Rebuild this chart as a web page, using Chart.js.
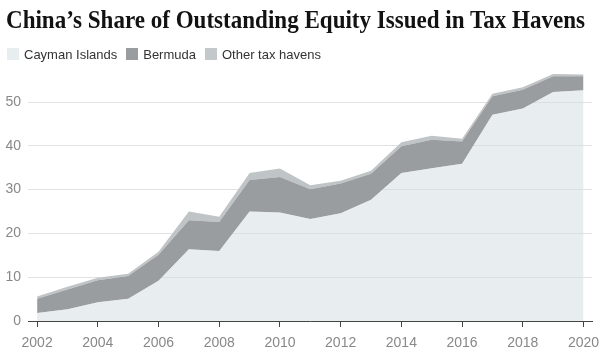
<!DOCTYPE html>
<html><head><meta charset="utf-8">
<script src="https://cdn.jsdelivr.net/npm/chart.js@4"></script>
<style>
html,body{margin:0;padding:0;background:#fff;}
#wrap{position:relative;width:614px;height:356px;overflow:hidden;}
#title{position:absolute;left:6px;top:7px;font:bold 26px "Liberation Serif",serif;line-height:26px;white-space:nowrap;transform-origin:0 0;color:#121212;display:inline-block;}
#legend{position:absolute;left:7px;top:48px;height:12px;display:flex;align-items:center;font:13px "Liberation Sans",sans-serif;color:#333;white-space:nowrap;}
#legend .it{display:flex;align-items:center;margin-right:9px;}
#legend .bx{width:12px;height:12px;margin-right:5px;}
canvas{position:absolute;left:0;top:0;}
</style>
</head><body>
<div id="wrap">
<canvas id="c" width="614" height="356"></canvas>
<span id="title">China’s Share of Outstanding Equity Issued in Tax Havens</span>
<div id="legend"></div>
</div>
<script>
const years = [2002,2003,2004,2005,2006,2007,2008,2009,2010,2011,2012,2013,2014,2015,2016,2017,2018,2019,2020];
const cayman = [1.8,2.7,4.3,5.1,9.2,16.4,16.0,25.0,24.8,23.3,24.6,27.7,33.8,34.9,35.9,47.1,48.5,52.3,52.7];
const bermuda = [3.3,4.5,5.0,5.2,5.9,6.6,6.6,7.2,8.1,6.8,6.8,5.9,6.1,6.5,5.1,4.2,4.3,3.6,3.2];
const otherHavens = [0.5,0.6,0.6,0.5,0.7,2.0,1.2,1.6,1.9,0.9,0.6,0.7,0.9,0.9,0.6,0.6,0.6,0.5,0.4];
const seriesNames = ["Cayman Islands","Bermuda","Other tax havens"];
const yTicks = [0,10,20,30,40,50];
const xTicks = [2002,2004,2006,2008,2010,2012,2014,2016,2018,2020];

const fills = ["rgba(209,222,226,0.5)","#9a9d9f","#bfc4c6"];
const legendColors = ["#e8eef0","#9a9d9f","#c3c8ca"];
const series = [cayman, bermuda, otherHavens];

const datasets = series.map((arr,i)=>({
  label: seriesNames[i],
  data: arr.map((v,j)=>({x:years[j], y:v})),
  backgroundColor: fills[i],
  borderWidth: 0,
  pointRadius: 0,
  tension: 0,
  fill: i===0 ? 'origin' : '-1'
}));

new Chart(document.getElementById('c'), {
  type: 'line',
  data: { datasets },
  options: {
    responsive: false,
    animation: false,
    devicePixelRatio: 1,
    layout: { padding: { top: 67, right: 22, left: 0, bottom: 0 } },
    plugins: { legend: { display: false }, title: { display: false }, tooltip: { enabled: false } },
    scales: {
      x: {
        type: 'linear',
        min: 2001.7, max: 2020.28,
        afterBuildTicks: (s) => { s.ticks = xTicks.map(v=>({value:v})); },
        afterFit: (s) => { s.height = 35; },
        ticks: { color: '#888', font: { family: 'Liberation Sans', size: 14 }, padding: 8, maxRotation: 0, autoSkip: false,
                 callback: (v) => String(v) },
        grid: { drawOnChartArea: false, drawTicks: true, tickLength: 6, color: '#444', lineWidth: 1 },
        border: { display: true, color: '#444', width: 1 }
      },
      y: {
        stacked: true,
        min: 0, max: 58,
        afterBuildTicks: (s) => { s.ticks = yTicks.map(v=>({value:v})); },
        afterFit: (s) => { s.width = 28; },
        ticks: { color: '#888', font: { family: 'Liberation Sans', size: 14 }, padding: 7 },
        grid: { color: '#e2e2e2', drawTicks: false, lineWidth: 1 },
        border: { display: false }
      }
    }
  }
});

const lg = document.getElementById('legend');
seriesNames.forEach((n,i)=>{
  const it = document.createElement('div'); it.className='it';
  const b = document.createElement('div'); b.className='bx'; b.style.background = legendColors[i];
  const t = document.createElement('span'); t.textContent = n;
  it.appendChild(b); it.appendChild(t); lg.appendChild(it);
});
const ti = document.getElementById('title');
const w = ti.getBoundingClientRect().width;
ti.style.transform = 'scaleX(' + (579 / w) + ')';
</script>
</body></html>
